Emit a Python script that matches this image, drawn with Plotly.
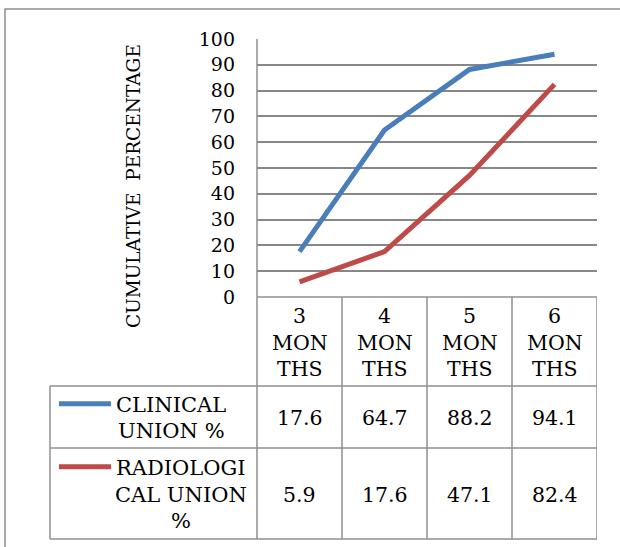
import plotly.graph_objects as go

# ---- data ----
categories = ["3 MONTHS", "4 MONTHS", "5 MONTHS", "6 MONTHS"]
header_labels = [["3", "MON", "THS"], ["4", "MON", "THS"], ["5", "MON", "THS"], ["6", "MON", "THS"]]
series_names = [["CLINICAL", "UNION %"], ["RADIOLOGI", "CAL UNION", "%"]]
clinical = [17.6, 64.7, 88.2, 94.1]
radiological = [5.9, 17.6, 47.1, 82.4]
series_values = [clinical, radiological]
series_colors = ["#4A7EBB", "#BE4B48"]
y_ticks = [0, 10, 20, 30, 40, 50, 60, 70, 80, 90, 100]
y_title = "CUMULATIVE\u00a0 PERCENTAGE"

# ---- layout geometry (pixels) ----
W, H = 620, 547
L, R, T, B = 257, 23, 39, 250
PW, PH = W - L - R, H - T - B
Y0 = H - B  # pixel y of value 0


def px(x):
    return (x - L) / PW


def py(y):
    return (Y0 - y) / PH


FONT = "DejaVu Serif"
FS = 20.5
LEG_FS = 21
TICK_FS = 19
TITLE_FS = 18.5
LINE_H = 26.7
GRID = "#878787"
BORDER = "#8f8f8f"

fig = go.Figure()
for name, vals, col in zip(series_names, series_values, series_colors):
    fig.add_trace(go.Scatter(x=categories, y=vals, mode="lines", name=" ".join(name),
                             line=dict(color=col, width=5), showlegend=False))

shapes = []
annotations = []

# outer border
shapes.append(dict(type="rect", xref="paper", yref="paper", x0=px(5), x1=px(630),
                   y0=py(9), y1=py(560), line=dict(color=BORDER, width=1.5)))

# table rows (pixel y)
row_top = Y0
row_hdr = 386
row_1 = 448
row_2 = 539
leg_left = 50
right = L + PW

for yy in [row_hdr, row_1, row_2]:
    shapes.append(dict(type="line", xref="paper", yref="paper", x0=px(leg_left), x1=px(right),
                       y0=py(yy), y1=py(yy), line=dict(color=BORDER, width=1.5)))
# y-axis line extending through table
shapes.append(dict(type="line", xref="paper", yref="paper", x0=0, x1=0,
                   y0=1, y1=py(row_2), line=dict(color=BORDER, width=1.5)))
# legend column left edge
shapes.append(dict(type="line", xref="paper", yref="paper", x0=px(leg_left), x1=px(leg_left),
                   y0=py(row_hdr), y1=py(row_2), line=dict(color=BORDER, width=1.5)))
# column dividers (between categories) and right edge
for i in range(len(categories)):
    xpos = i + 0.5
    shapes.append(dict(type="line", xref="x", yref="paper", x0=xpos, x1=xpos,
                       y0=0, y1=py(row_2), line=dict(color=BORDER, width=1.5)))
# x-axis (top of table)
shapes.append(dict(type="line", xref="paper", yref="paper", x0=0, x1=1,
                   y0=0, y1=0, line=dict(color=BORDER, width=1.5)))


def add_lines(lines, xref, x, yc, size):
    n = len(lines)
    for k, t in enumerate(lines):
        ypix = yc + (k - (n - 1) / 2) * LINE_H
        annotations.append(dict(text=t, xref=xref, yref="paper", x=x, y=py(ypix),
                                xanchor="center", yanchor="middle", showarrow=False,
                                font=dict(family=FONT, size=size, color="black")))


# header labels
for cat, lab in zip(categories, header_labels):
    add_lines(lab, "x", cat, (row_top + row_hdr) / 2 + 1, FS)

# values rows
row_centers = [(row_hdr + row_1) / 2 + 1, (row_1 + row_2) / 2 + 1]
for vals, yc in zip(series_values, row_centers):
    for cat, v in zip(categories, vals):
        add_lines([f"{v:.1f}"], "x", cat, yc, FS)

# legend keys + names
legend_text_x = [171, 181]
for name, col, yc, tx in zip(series_names, series_colors, row_centers, legend_text_x):
    n = len(name)
    first = yc - (n - 1) / 2 * LINE_H
    add_lines(name, "paper", px(tx), yc, LEG_FS)
    shapes.append(dict(type="line", xref="paper", yref="paper", x0=px(59), x1=px(111),
                       y0=py(first - 1), y1=py(first - 1), line=dict(color=col, width=5)))

# y title
annotations.append(dict(text=y_title, xref="paper", yref="paper", x=px(133), y=py(186),
                        xanchor="center", yanchor="middle", textangle=-90, showarrow=False,
                        font=dict(family=FONT, size=TITLE_FS, color="black")))

fig.update_layout(
    width=W, height=H,
    margin=dict(l=L, r=R, t=T, b=B),
    paper_bgcolor="white", plot_bgcolor="white",
    font=dict(family=FONT, color="black"),
    shapes=shapes, annotations=annotations,
    xaxis=dict(type="category", categoryarray=categories, range=[-0.5, len(categories) - 0.5],
               showticklabels=False, showgrid=False, zeroline=False, showline=False, ticks=""),
    yaxis=dict(range=[0, 100], tickvals=y_ticks, showgrid=True, gridcolor=GRID, gridwidth=1.5,
               zeroline=False, showline=False, ticks="", ticklabelstandoff=21,
               tickfont=dict(family=FONT, size=TICK_FS, color="black")),
)

fig.write_html("out.html", config={"displayModeBar": False},
               post_script="document.body.style.margin='0';")
